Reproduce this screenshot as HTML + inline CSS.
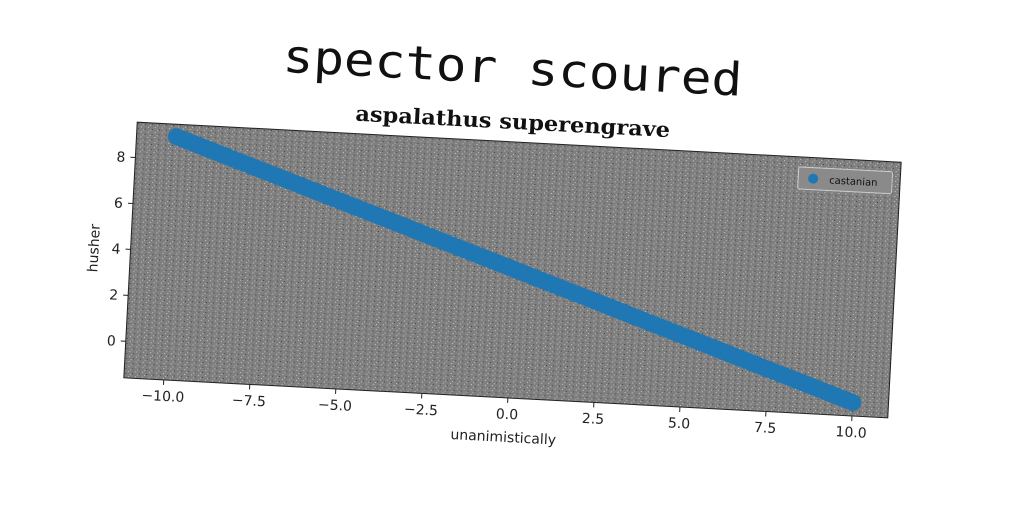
<!DOCTYPE html>
<html><head><meta charset="utf-8"><style>
html,body{margin:0;padding:0;background:#fff;width:1024px;height:512px;overflow:hidden}
svg{display:block}
</style></head><body>
<svg id="chart" width="1024" height="512" xmlns="http://www.w3.org/2000/svg">
<defs>
<pattern id="noise" width="7" height="5" patternUnits="userSpaceOnUse">
<rect width="7" height="5" fill="#7f7f7f"/>
<rect x="1" y="1" width="1" height="1" fill="#c8c8c8"/>
<rect x="5" y="3" width="1" height="1" fill="#444"/>
<rect x="3" y="4" width="1" height="1" fill="#bbb"/>
</pattern>
</defs>
<g id="rot" transform="rotate(3 512 270)">
<text x="502" y="84" text-anchor="middle" textLength="460" lengthAdjust="spacingAndGlyphs" font-family="DejaVu Sans Mono, Liberation Mono, monospace" font-size="46" fill="#111">spector scoured</text>
<text x="505" y="129" text-anchor="middle" textLength="315" lengthAdjust="spacingAndGlyphs" font-family="DejaVu Serif, Liberation Serif, serif" font-weight="bold" font-size="21" fill="#111">aspalathus superengrave</text>
<rect x="130" y="142" width="765" height="256" fill="url(#noise)" stroke="#222" stroke-width="1"/>
<g id="xticks"></g><g id="yticks"></g><g id="marks"></g>
<text x="512" y="442" text-anchor="middle" font-family="DejaVu Sans, Liberation Sans, sans-serif" font-size="14" fill="#222">unanimistically</text>
<text x="0" y="0" transform="translate(98 270) rotate(-90)" text-anchor="middle" font-family="DejaVu Sans, Liberation Sans, sans-serif" font-size="14" fill="#222">husher</text>
<g>
<rect x="793" y="152" width="94" height="22" rx="2" fill="#8a8a8a" stroke="#ccc"/>
<circle cx="808" cy="163" r="5" fill="#1f77b4"/>
<text x="824" y="167" font-family="DejaVu Sans, Liberation Sans, sans-serif" font-size="10" fill="#111">castanian</text>
</g>
</g>
</svg>
<script>
const xValues = [-10,-9.5,-9,-8.5,-8,-7.5,-7,-6.5,-6,-5.5,-5,-4.5,-4,-3.5,-3,-2.5,-2,-1.5,-1,-0.5,0,0.5,1,1.5,2,2.5,3,3.5,4,4.5,5,5.5,6,6.5,7,7.5,8,8.5,9,9.5,10];
const yValues = [9.0,8.75,8.5,8.25,8.0,7.75,7.5,7.25,7.0,6.75,6.5,6.25,6.0,5.75,5.5,5.25,5.0,4.75,4.5,4.25,4.0,3.75,3.5,3.25,3.0,2.75,2.5,2.25,2.0,1.75,1.5,1.25,1.0,0.75,0.5,0.25,0.0,-0.25,-0.5,-0.75,-1.0];
const xTicks = [-10,-7.5,-5,-2.5,0,2.5,5,7.5,10];
const xTickLabels = ["\u221210.0","\u22127.5","\u22125.0","\u22122.5","0.0","2.5","5.0","7.5","10.0"];
const yTicks = [0,2,4,6,8];
const yTickLabels = ["0","2","4","6","8"];
const X0=130,X1=895,Y0=142,Y1=398,xmin=-11.16,xmax=11.04,ymin=-1.59,ymax=9.54;
function sx(v){return X0+(v-xmin)/(xmax-xmin)*(X1-X0);}
function sy(v){return Y1-(v-ymin)/(ymax-ymin)*(Y1-Y0);}
const NS="http://www.w3.org/2000/svg";
function mk(t,a){const e=document.createElementNS(NS,t);for(const k in a)e.setAttribute(k,a[k]);return e;}
const xg=document.getElementById('xticks');
xTicks.forEach((v,i)=>{
 const l=mk('line',{x1:sx(v),x2:sx(v),y1:Y1,y2:Y1+5,stroke:'#222'});
 
 
 xg.appendChild(l);
 const t=mk('text',{x:sx(v),y:Y1+21,'text-anchor':'middle','font-family':'DejaVu Sans, Liberation Sans, sans-serif','font-size':'14',fill:'#222'});
 t.textContent=xTickLabels[i];
 
 
 xg.appendChild(t);
});
const yg=document.getElementById('yticks');
yTicks.forEach((v,i)=>{
 const l=mk('line',{x1:X0-5,x2:X0,y1:sy(v),y2:sy(v),stroke:'#222'});
 
 
 yg.appendChild(l);
 const t=mk('text',{x:X0-10,y:sy(v)+5,'text-anchor':'end','font-family':'DejaVu Sans, Liberation Sans, sans-serif','font-size':'14',fill:'#222'});
 t.textContent=yTickLabels[i];
 
 
 yg.appendChild(t);
});
const mg=document.getElementById('marks');
for(let i=0;i<xValues.length-1;i++){
 for(let k=0;k<3;k++){
  const f=k/3;
  const x=xValues[i]+(xValues[i+1]-xValues[i])*f, y=yValues[i]+(yValues[i+1]-yValues[i])*f;
  const c=mk('circle',{cx:sx(x),cy:sy(y),r:8.5,fill:'#1f77b4'});
  
  
  mg.appendChild(c);
 }
}
const last=mk('circle',{cx:sx(xValues[xValues.length-1]),cy:sy(yValues[yValues.length-1]),r:8.5,fill:'#1f77b4'});


mg.appendChild(last);
</script>
</body></html>
